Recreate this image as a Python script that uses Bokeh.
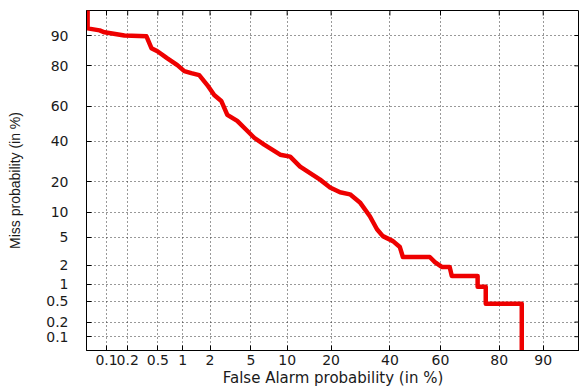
import math
from statistics import NormalDist
from bokeh.plotting import figure
from bokeh.models import Range1d, FixedTicker, ColumnDataSource, CustomJSTickFormatter
from bokeh.embed import file_html
from bokeh.resources import INLINE

# ---- data (percent) ----
fa_pct = [0.052, 0.052, 0.079, 0.0935, 0.18, 0.357, 0.414, 0.493, 0.655, 0.863,
          1.04, 1.25, 1.53, 1.87, 2.21, 2.61, 3.00, 3.74, 4.63, 5.35,
          6.53, 8.82, 10.53, 12.46, 17.05, 19.70, 22.6, 25.7, 29.0, 32.5,
          35.1, 37.3, 41.2, 43.9, 45.1, 55.8, 57.8, 60.5, 63.5, 64.3,
          73.4, 73.4, 76.0, 76.0, 85.7, 85.7]
miss_pct = [99.0, 91.7, 91.25, 90.8, 90.0, 89.8, 86.4, 85.4, 82.9, 80.3,
            77.8, 76.9, 76.0, 71.3, 66.2, 63.0, 55.2, 51.7, 46.0, 42.0,
            38.1, 32.7, 31.7, 26.7, 20.9, 17.8, 16.0, 15.3, 12.7, 8.98,
            6.30, 5.15, 4.43, 3.68, 2.66, 2.66, 2.24, 1.89, 1.89, 1.36,
            1.36, 0.90, 0.90, 0.45, 0.45, 0.01]

x_tick_pct = [0.1, 0.2, 0.5, 1, 2, 5, 10, 20, 40, 60, 80, 90]
x_tick_labels = ["0.1", "0.2", "0.5", "1", "2", "5", "10", "20", "40", "60", "80", "90"]
y_tick_pct = [0.1, 0.2, 0.5, 1, 2, 5, 10, 20, 40, 60, 80, 90]
y_tick_labels = ["0.1", "0.2", "0.5", "1", "2", "5", "10", "20", "40", "60", "80", "90"]
axis_min_pct = 0.05
axis_max_pct = 95.0

nd = NormalDist()


def probit(pct):
    return nd.inv_cdf(pct / 100.0)


src = ColumnDataSource(dict(x=[probit(v) for v in fa_pct],
                            y=[probit(v) for v in miss_pct]))

lo, hi = probit(axis_min_pct), probit(axis_max_pct)

p = figure(width=579, height=389, output_backend="svg", toolbar_location=None,
           x_range=Range1d(lo, hi), y_range=Range1d(lo, hi),
           min_border_left=86, min_border_right=0, min_border_top=10,
           min_border_bottom=37, x_axis_label="False Alarm probability (in %)",
           y_axis_label="Miss probability (in %)")
p.outline_line_color = "black"
p.background_fill_color = "white"
p.border_fill_color = "white"

xt = [probit(v) for v in x_tick_pct]
yt = [probit(v) for v in y_tick_pct]

FMT_CODE = """
let best = 0;
let bd = Infinity;
for (let i = 0; i < tv.length; i++) {
    const d = Math.abs(tv[i] - tick);
    if (d < bd) { bd = d; best = i; }
}
return labs[best];
"""


def style_axis(ax, ticks, labels):
    ax.ticker = FixedTicker(ticks=ticks, minor_ticks=[])
    ax.formatter = CustomJSTickFormatter(args=dict(tv=ticks, labs=labels), code=FMT_CODE)
    ax.major_tick_in = 5
    ax.major_tick_out = 0
    ax.minor_tick_line_color = None
    ax.axis_line_color = "black"
    ax.major_tick_line_color = "black"
    ax.major_label_text_font = "DejaVu Sans"
    ax.major_label_text_font_size = "14px"
    ax.major_label_text_color = "#1a1a1a"
    ax.axis_label_text_font_style = "normal"
    ax.axis_label_text_color = "#1a1a1a"


style_axis(p.xaxis[0], xt, x_tick_labels)
style_axis(p.yaxis[0], yt, y_tick_labels)
p.xaxis[0].major_label_standoff = 4
p.xaxis[0].axis_label_standoff = 1
p.xaxis[0].axis_label_text_font = "DejaVu Sans"
p.xaxis[0].axis_label_text_font_size = "15px"
p.yaxis[0].major_label_standoff = 18
p.yaxis[0].axis_label_standoff = 20
p.yaxis[0].axis_label_text_font = "Liberation Sans"
p.yaxis[0].axis_label_text_font_size = "14px"

for g, t in ((p.xgrid[0], xt), (p.ygrid[0], yt)):
    g.ticker = FixedTicker(ticks=t, minor_ticks=[])
    g.grid_line_color = "#333333"
    g.grid_line_dash = "1 3"
    g.grid_line_width = 1

# inward tick marks on the top and right edges
p.scatter(x=xt, y=[hi] * len(xt), marker="dash", size=10, angle=math.pi / 2,
          line_color="black", line_width=1)
p.scatter(x=[hi] * len(yt), y=yt, marker="dash", size=10,
          line_color="black", line_width=1)

p.line("x", "y", source=src, line_color="#ee0000", line_width=4.5,
       line_join="round")

open("out.html", "w").write(file_html(p, INLINE))
